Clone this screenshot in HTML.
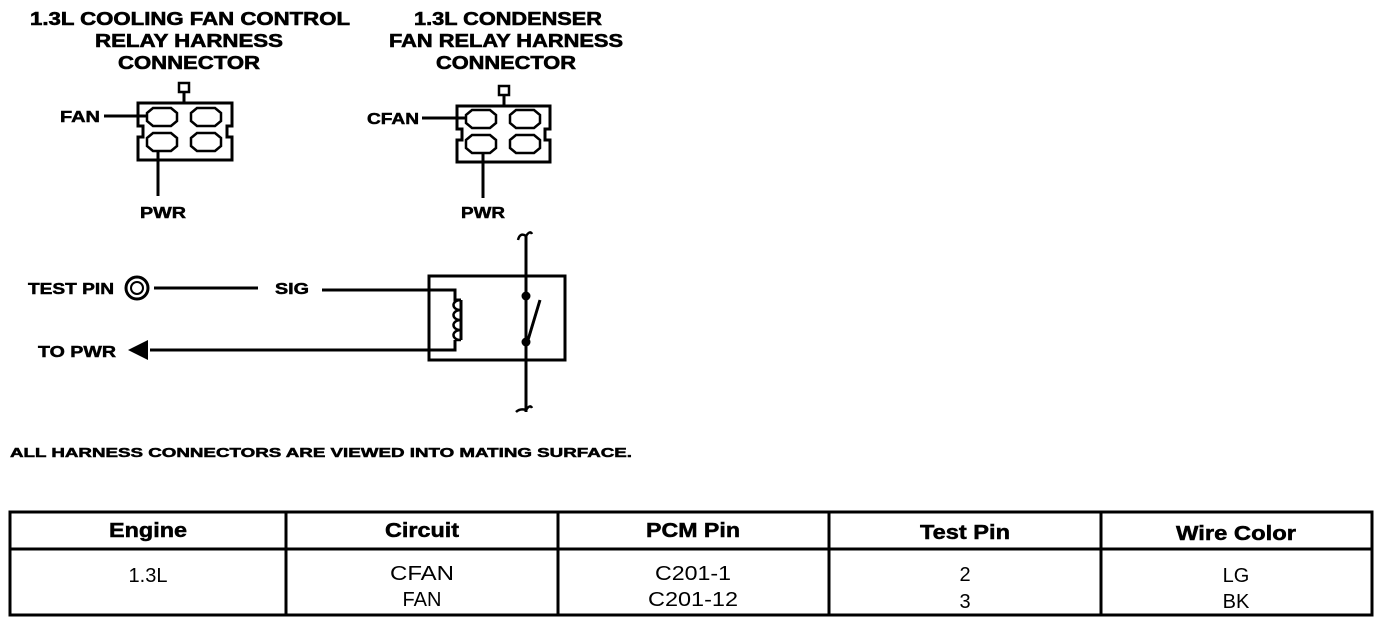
<!DOCTYPE html>
<html><head><meta charset="utf-8"><style>
body{margin:0;background:#fff;width:1392px;height:626px;overflow:hidden;font-family:"Liberation Sans",sans-serif}
svg{position:absolute;left:0;top:0}
text{font-family:"Liberation Sans",sans-serif;fill:#000}
</style></head><body>
<svg width="1392" height="626" viewBox="0 0 1392 626">
<g font-size="18" font-weight="bold" stroke="#000" stroke-width="0.6" lengthAdjust="spacingAndGlyphs">
<text x="30" y="25" textLength="320" lengthAdjust="spacingAndGlyphs">1.3L COOLING FAN CONTROL</text>
<text x="95" y="47" textLength="188" lengthAdjust="spacingAndGlyphs">RELAY HARNESS</text>
<text x="118" y="69" textLength="142" lengthAdjust="spacingAndGlyphs">CONNECTOR</text>
<text x="414" y="25" textLength="188" lengthAdjust="spacingAndGlyphs">1.3L CONDENSER</text>
<text x="389" y="47" textLength="234" lengthAdjust="spacingAndGlyphs">FAN RELAY HARNESS</text>
<text x="436" y="69" textLength="140" lengthAdjust="spacingAndGlyphs">CONNECTOR</text>
</g>
<g fill="none" stroke="#000" stroke-width="3">
<rect x="179" y="83" width="10" height="9" stroke-width="2.5"/>
<line x1="184" y1="92" x2="184" y2="102"/>
<path d="M138 103 H232 V126 H227 V137 H232 V160 H138 V137 H143 V126 H138 Z"/>
<path d="M153 108 h18 l6 5 v8 l-6 5 h-18 l-6 -5 v-8 z M197 108 h18 l6 5 v8 l-6 5 h-18 l-6 -5 v-8 z M153 133 h18 l6 5 v8 l-6 5 h-18 l-6 -5 v-8 z M197 133 h18 l6 5 v8 l-6 5 h-18 l-6 -5 v-8 z" stroke-width="2.5"/>
<line x1="104" y1="116" x2="147" y2="116"/>
<line x1="158" y1="151" x2="158" y2="196"/>
<rect x="499" y="86" width="10" height="9" stroke-width="2.5"/>
<line x1="504" y1="95" x2="504" y2="105"/>
<path d="M457 106 H550 V129 H545 V140 H550 V162 H457 V140 H462 V129 H457 Z"/>
<path d="M472 110 h18 l6 5 v8 l-6 5 h-18 l-6 -5 v-8 z M516 110 h18 l6 5 v8 l-6 5 h-18 l-6 -5 v-8 z M472 135 h18 l6 5 v8 l-6 5 h-18 l-6 -5 v-8 z M516 135 h18 l6 5 v8 l-6 5 h-18 l-6 -5 v-8 z" stroke-width="2.5"/>
<line x1="422" y1="118" x2="466" y2="118"/>
<line x1="483" y1="153" x2="483" y2="198"/>
<rect x="429" y="276" width="136" height="84"/>
<line x1="526" y1="236" x2="526" y2="412"/>
<path d="M518 240 q2 -8 8 -4 q4 -6 6 -2" stroke-width="2.5"/>
<path d="M516 412 q4 -4 10 -2 q4 -6 6 -2" stroke-width="2.5"/>
<line x1="528" y1="340" x2="540" y2="300"/>
<path d="M322 290 H455 V300 h6 M455 340 V350 H150"/>
<path d="M461 300 c-10 0 -10 10 0 10 M461 310 c-10 0 -10 10 0 10 M461 320 c-10 0 -10 10 0 10 M461 330 c-10 0 -10 10 0 10 h-6" stroke-width="2.5"/>
<path d="M461 300 v40"/>
<line x1="154" y1="288" x2="258" y2="288"/>
<circle cx="137" cy="288" r="11"/>
<circle cx="137" cy="288" r="6" stroke-width="2"/>
</g>
<circle cx="526" cy="296" r="4.5"/>
<circle cx="526" cy="342" r="4.5"/>
<polygon points="128,350 148,340 148,360"/>
<g font-size="16" font-weight="bold" stroke="#000" stroke-width="0.5">
<text x="60" y="122" textLength="40" lengthAdjust="spacingAndGlyphs">FAN</text>
<text x="367" y="124" textLength="52" lengthAdjust="spacingAndGlyphs">CFAN</text>
<text x="140" y="218" textLength="46" lengthAdjust="spacingAndGlyphs">PWR</text>
<text x="461" y="218" textLength="44" lengthAdjust="spacingAndGlyphs">PWR</text>
<text x="28" y="294" textLength="86" lengthAdjust="spacingAndGlyphs">TEST PIN</text>
<text x="275" y="294" textLength="34" lengthAdjust="spacingAndGlyphs">SIG</text>
<text x="38" y="357" textLength="78" lengthAdjust="spacingAndGlyphs">TO PWR</text>
<text x="10" y="457" font-size="13" textLength="622" lengthAdjust="spacingAndGlyphs">ALL HARNESS CONNECTORS ARE VIEWED INTO MATING SURFACE.</text>
</g>
<g fill="none" stroke="#000" stroke-width="3">
<rect x="10" y="512" width="1362" height="103"/>
<line x1="10" y1="549" x2="1372" y2="549"/>
<line x1="286" y1="512" x2="286" y2="615"/>
<line x1="558" y1="512" x2="558" y2="615"/>
<line x1="829" y1="512" x2="829" y2="615"/>
<line x1="1101" y1="512" x2="1101" y2="615"/>
</g>
<g font-size="20" text-anchor="middle">
<g font-weight="bold" stroke="#000" stroke-width="0.5">
<text x="148" y="537" textLength="78" lengthAdjust="spacingAndGlyphs">Engine</text>
<text x="422" y="537" textLength="74" lengthAdjust="spacingAndGlyphs">Circuit</text>
<text x="693" y="537" textLength="94" lengthAdjust="spacingAndGlyphs">PCM Pin</text>
<text x="965" y="539" textLength="90" lengthAdjust="spacingAndGlyphs">Test Pin</text>
<text x="1236" y="540" textLength="120" lengthAdjust="spacingAndGlyphs">Wire Color</text>
</g>
<text x="148" y="582">1.3L</text>
<text x="422" y="580" textLength="64" lengthAdjust="spacingAndGlyphs">CFAN</text>
<text x="422" y="606">FAN</text>
<text x="693" y="580" textLength="76" lengthAdjust="spacingAndGlyphs">C201-1</text>
<text x="693" y="606" textLength="90" lengthAdjust="spacingAndGlyphs">C201-12</text>
<text x="965" y="581">2</text>
<text x="965" y="608">3</text>
<text x="1236" y="582">LG</text>
<text x="1236" y="608">BK</text>
</g>
</svg>
</body></html>
